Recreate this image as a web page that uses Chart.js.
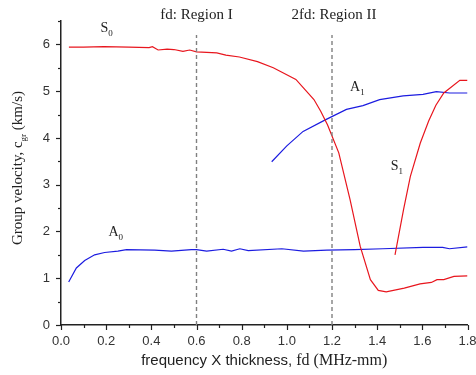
<!DOCTYPE html>
<html>
<head>
<meta charset="utf-8">
<script src="https://cdn.jsdelivr.net/npm/chart.js@4"></script>
<style>
  html, body { margin: 0; padding: 0; background: #fff; }
  #wrap { width: 476px; height: 375px; }
</style>
</head>
<body>
<div id="wrap"><canvas id="chart" width="476" height="375"></canvas></div>
<script>
// dispersion curves (fd in MHz-mm, group velocity in km/s)
const s0X = [0.035, 0.1, 0.19, 0.3, 0.39, 0.405, 0.43, 0.47, 0.5, 0.54, 0.57, 0.6, 0.69, 0.73, 0.79, 0.87, 0.94, 1.04, 1.12, 1.15, 1.18, 1.23, 1.28, 1.325, 1.37, 1.405, 1.44, 1.52, 1.59, 1.64, 1.665, 1.695, 1.74, 1.8];
const s0Y = [5.94, 5.94, 5.95, 5.94, 5.93, 5.95, 5.88, 5.90, 5.89, 5.85, 5.88, 5.84, 5.82, 5.77, 5.73, 5.63, 5.50, 5.25, 4.82, 4.57, 4.28, 3.68, 2.68, 1.68, 0.97, 0.74, 0.71, 0.79, 0.88, 0.91, 0.97, 0.97, 1.04, 1.05];

const s1X = [1.479, 1.517, 1.547, 1.591, 1.628, 1.66, 1.695, 1.766, 1.8];
const s1Y = [1.50, 2.47, 3.18, 3.89, 4.36, 4.70, 4.96, 5.23, 5.23];

const a1X = [0.933, 1.0, 1.072, 1.168, 1.264, 1.337, 1.411, 1.515, 1.603, 1.662, 1.721, 1.8];
const a1Y = [3.49, 3.83, 4.14, 4.38, 4.61, 4.69, 4.82, 4.90, 4.93, 4.99, 4.96, 4.96];

const a0X = [0.034, 0.068, 0.105, 0.149, 0.193, 0.252, 0.29, 0.415, 0.489, 0.577, 0.6, 0.645, 0.718, 0.755, 0.792, 0.829, 0.978, 1.074, 1.177, 1.3, 1.425, 1.603, 1.69, 1.72, 1.8];
const a0Y = [0.92, 1.22, 1.38, 1.50, 1.55, 1.58, 1.61, 1.60, 1.58, 1.61, 1.61, 1.58, 1.62, 1.58, 1.63, 1.59, 1.63, 1.58, 1.60, 1.61, 1.63, 1.66, 1.66, 1.63, 1.67];

// region boundaries and their captions
const regionX = [0.6, 1.2];
const regionLabels = ["fd: Region I", "2fd: Region II"];
const regionTop = 6.2;

// mode names: [letter, subscript, x, y]
const modeLabels = [
  ["S", "0", 0.175, 6.38],
  ["A", "1", 1.28, 5.1],
  ["S", "1", 1.46, 3.43],
  ["A", "0", 0.21, 2.0]
];

const RED = "#e8161e";
const BLUE = "#1c1ce0";
const SERIF = "'Liberation Serif', 'Times New Roman', serif";
const SANS = "'Liberation Sans', Arial, sans-serif";

function pts(xs, ys) {
  return xs.map((x, i) => ({ x: x, y: ys[i] }));
}

function curve(label, xs, ys, color) {
  return {
    label: label,
    data: pts(xs, ys),
    borderColor: color,
    borderWidth: 1.2,
    pointRadius: 0,
    fill: false,
    tension: 0
  };
}

const datasets = [
  curve("S0", s0X, s0Y, RED),
  curve("S1", s1X, s1Y, RED),
  curve("A1", a1X, a1Y, BLUE),
  curve("A0", a0X, a0Y, BLUE)
];
regionX.forEach(x => {
  datasets.unshift({
    label: "region",
    data: [{ x: x, y: 0 }, { x: x, y: regionTop }],
    borderColor: "#808080",
    borderWidth: 1.4,
    borderDash: [4, 3],
    pointRadius: 0,
    fill: false
  });
});

// ticks, captions and axis titles
const decor = {
  id: "decor",
  afterDraw(chart) {
    const ctx = chart.ctx;
    const xs = chart.scales.x;
    const ys = chart.scales.y;
    const area = chart.chartArea;
    ctx.save();

    // tick marks, outward, minor ones shorter
    ctx.strokeStyle = "#222";
    ctx.lineWidth = 1.2;
    for (let i = 0; i <= 18; i++) {
      const px = Math.round(xs.getPixelForValue(i / 10)) + 0.5;
      const len = i % 2 === 0 ? 5 : 3;
      ctx.beginPath();
      ctx.moveTo(px, area.bottom);
      ctx.lineTo(px, area.bottom + len);
      ctx.stroke();
    }
    for (let i = 0; i <= 13; i++) {
      const py = Math.round(ys.getPixelForValue(i / 2)) + 0.5;
      const len = i % 2 === 0 ? 5 : 3;
      ctx.beginPath();
      ctx.moveTo(area.left, py);
      ctx.lineTo(area.left - len, py);
      ctx.stroke();
    }

    // region captions
    ctx.fillStyle = "#222";
    ctx.font = "15px " + SERIF;
    ctx.textAlign = "center";
    ctx.textBaseline = "middle";
    regionX.forEach((x, i) => {
      ctx.fillText(regionLabels[i], xs.getPixelForValue(x) + (i === 1 ? 2 : 0), 15);
    });

    // mode names with subscripts
    ctx.textAlign = "left";
    ctx.textBaseline = "alphabetic";
    modeLabels.forEach(m => {
      const px = xs.getPixelForValue(m[2]);
      const py = ys.getPixelForValue(m[3]);
      ctx.font = "14px " + SERIF;
      ctx.fillText(m[0], px, py + 5);
      const w = ctx.measureText(m[0]).width;
      ctx.font = "9px " + SERIF;
      ctx.fillText(m[1], px + w, py + 9);
    });

    // y axis title
    ctx.save();
    ctx.translate(22, 168);
    ctx.rotate(-Math.PI / 2);
    const p1 = "Group velocity, c";
    const p2 = "gr";
    const p3 = " (km/s)";
    ctx.font = "15px " + SERIF;
    const w1 = ctx.measureText(p1).width;
    const w3 = ctx.measureText(p3).width;
    ctx.font = "9px " + SERIF;
    const w2 = ctx.measureText(p2).width;
    let x0 = -(w1 + w2 + w3) / 2;
    ctx.font = "15px " + SERIF;
    ctx.fillText(p1, x0, 0);
    ctx.font = "9px " + SERIF;
    ctx.fillText(p2, x0 + w1, 4);
    ctx.font = "15px " + SERIF;
    ctx.fillText(p3, x0 + w1 + w2, 0);
    ctx.restore();

    // x axis title
    const q1 = "frequency X thickness, ";
    const q2 = "fd (MHz-mm)";
    ctx.font = "15px " + SANS;
    const v1 = ctx.measureText(q1).width;
    ctx.font = "16px " + SERIF;
    const v2 = ctx.measureText(q2).width;
    const cx = (area.left + area.right) / 2;
    let sx = cx - (v1 + v2) / 2;
    ctx.font = "15px " + SANS;
    ctx.fillText(q1, sx, 365);
    ctx.font = "16px " + SERIF;
    ctx.fillText(q2, sx + v1, 365);

    ctx.restore();
  }
};

new Chart(document.getElementById("chart").getContext("2d"), {
  type: "line",
  data: { datasets },
  options: {
    responsive: false,
    animation: false,
    layout: { padding: { top: 21, right: 8.5, left: 6, bottom: 0 } },
    plugins: {
      legend: { display: false },
      tooltip: { enabled: false }
    },
    scales: {
      x: {
        type: "linear",
        min: 0,
        max: 1.8,
        afterFit: s => { s.height = 50; s.paddingLeft = 0; s.paddingRight = 0; },
        border: { display: true, color: "#222", width: 1.5 },
        grid: { drawOnChartArea: false, drawTicks: true, tickLength: 5, color: "rgba(0,0,0,0)" },
        ticks: {
          stepSize: 0.1,
          autoSkip: false,
          maxRotation: 0,
          padding: 4,
          color: "#333",
          font: { family: SANS, size: 13 },
          callback: v => (Math.round(v * 10) % 2 === 0 ? v.toFixed(1) : "")
        }
      },
      y: {
        type: "linear",
        min: 0,
        max: 6.5,
        afterFit: s => { s.width = 55; },
        border: { display: true, color: "#222", width: 1.5 },
        grid: { drawOnChartArea: false, drawTicks: true, tickLength: 5, color: "rgba(0,0,0,0)" },
        ticks: {
          stepSize: 0.5,
          autoSkip: false,
          padding: 6,
          color: "#333",
          font: { family: SANS, size: 13 },
          callback: v => (Number.isInteger(v) ? String(v) : "")
        }
      }
    }
  },
  plugins: [decor]
});
</script>
</body>
</html>
